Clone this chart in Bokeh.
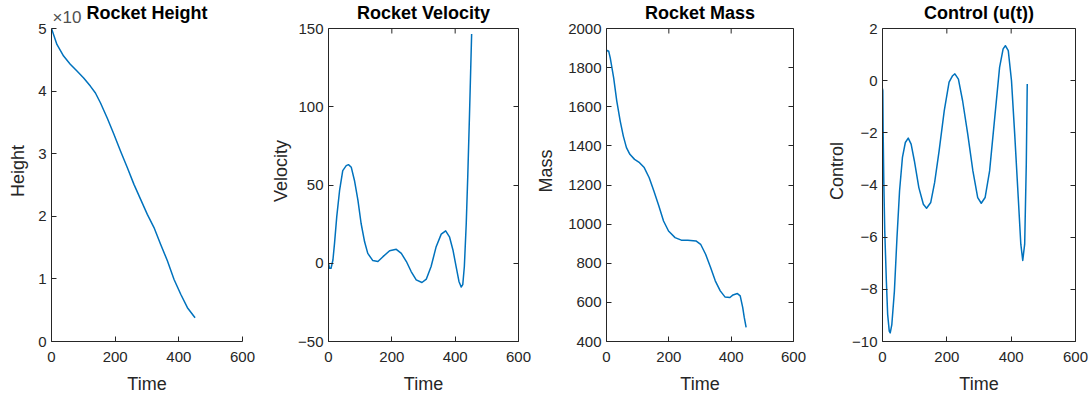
from bokeh.plotting import figure
from bokeh.layouts import row
from bokeh.models import LinearAxis, Range1d, FixedTicker, Label, Span, CustomJSTickFormatter
from bokeh.embed import file_html
from bokeh.resources import INLINE

# ---- data ----
t_height = [0, 17, 38, 59, 80, 101, 122, 138, 154, 175, 196, 217, 238, 259, 280,
            301, 322, 343, 364, 385, 406, 427, 451]
height_e4 = [5.0, 4.745, 4.56, 4.43, 4.32, 4.21, 4.08, 3.97, 3.81, 3.57, 3.31, 3.04,
             2.78, 2.51, 2.27, 2.03, 1.82, 1.55, 1.29, 0.99, 0.755, 0.54, 0.38]

t_vel = [0, 3, 8, 14, 19, 26, 35, 45, 56, 63, 72, 82, 93, 103, 114, 124, 140, 156,
         172, 193, 214, 230, 246, 261, 277, 295, 309, 324, 340, 356, 370, 382, 393,
         403, 412, 419, 424, 429, 435, 440, 445, 452]
velocity = [0, -3.2, -3.2, 2.1, 12.7, 29.6, 46.5, 59.2, 62.4, 63.0, 61.3, 52.9, 40.2,
            25.4, 13.7, 6.3, 1.7, 1.1, 4.2, 8.0, 8.9, 6.3, 1.1, -5.3, -10.6, -12.3,
            -10.1, -2.1, 10.6, 18.6, 20.7, 16.9, 8.5, -2.1, -11.6, -15.2, -13.7, -2.1,
            25.4, 57, 93, 146.5]

t_mass = [0, 2, 7, 12, 23, 33, 44, 54, 64, 75, 90, 106, 121, 137, 152, 168, 183, 199,
          220, 240, 261, 287, 302, 318, 334, 349, 365, 380, 396, 406, 420, 429, 437,
          442, 448]
mass = [1880, 1888, 1884, 1850, 1748, 1629, 1527, 1450, 1391, 1357, 1331, 1314, 1289,
        1237, 1169, 1093, 1016, 965, 931, 918, 918, 914, 897, 846, 778, 710, 659, 628,
        625, 638, 645, 633, 574, 523, 472]

t_ctrl = [0, 1, 2, 4, 7, 12, 16, 21, 24, 29, 37, 45, 53, 62, 71, 80, 89, 99, 113, 127,
          137, 150, 162, 176, 192, 207, 218, 225, 236, 249, 265, 281, 296, 307, 319,
          333, 349, 364, 375, 382, 391, 401, 411, 422, 430, 436, 442, 447, 450]
control = [-0.3, -0.38, -1.92, -3.84, -5.76, -7.68, -8.96, -9.6, -9.67, -9.35, -8.07,
           -6.02, -4.23, -2.94, -2.37, -2.2, -2.43, -3.07, -4.1, -4.74, -4.89, -4.67,
           -3.91, -2.69, -1.15, -0.06, 0.19, 0.26, 0.06, -0.77, -2.05, -3.46, -4.48,
           -4.7, -4.48, -3.46, -1.41, 0.51, 1.22, 1.34, 1.15, 0.0, -2.05, -4.48, -6.27,
           -6.89, -6.27, -3.2, -0.13]

x_ticks = [0, 200, 400, 600]
titles = ["Rocket Height", "Rocket Velocity", "Rocket Mass", "Control (u(t))"]

AX = "#262626"
FONT = "Liberation Sans"
LINE = "#0072BD"
TOP = 28          # space above the axes box, in px
BOX_H = 313       # height of the axes box, in px
BOTTOM = 55
HEIGHT = TOP + BOX_H + BOTTOM
TICK = 5


def style_axis(ax, show_labels=True):
    ax.axis_line_color = AX
    ax.major_tick_line_color = AX
    ax.major_tick_in = TICK
    ax.major_tick_out = 0
    ax.minor_tick_line_color = None
    ax.major_label_text_font = FONT
    ax.major_label_text_font_size = "15px"
    ax.major_label_text_color = AX
    ax.major_label_standoff = 5
    ax.axis_label_text_font = FONT
    ax.axis_label_text_font_size = "18px"
    ax.axis_label_text_font_style = "normal"
    ax.axis_label_text_color = AX
    if not show_labels:
        ax.formatter = CustomJSTickFormatter(code="return ''")
        ax.major_label_standoff = 0


def make_fig(width, left, right, title, xs, ys, yr, yticks, ylabel, ystand, box=True,
             note=None):
    lo, hi = yr
    # the frame reaches the top of the canvas; the box top (hi) sits TOP px lower
    top_val = hi + (hi - lo) * TOP / BOX_H
    p = figure(width=width, height=HEIGHT, min_border_left=left, min_border_right=right,
               min_border_top=0, min_border_bottom=BOTTOM,
               x_range=Range1d(0, 600), y_range=Range1d(lo, top_val),
               output_backend="svg", toolbar_location=None)
    p.grid.visible = False
    p.outline_line_color = None
    p.background_fill_color = "white"
    p.border_fill_color = "white"
    p.xaxis.ticker = FixedTicker(ticks=x_ticks)
    p.yaxis.ticker = FixedTicker(ticks=yticks)
    p.xaxis.axis_label = "Time"
    p.yaxis.axis_label = ylabel
    style_axis(p.xaxis[0])
    style_axis(p.yaxis[0])
    p.yaxis[0].bounds = (lo, hi)
    p.xaxis[0].major_label_standoff = 10
    p.xaxis[0].axis_label_standoff = 9
    p.yaxis[0].axis_label_standoff = ystand
    if box:
        ra = LinearAxis(ticker=FixedTicker(ticks=yticks), bounds=(lo, hi))
        style_axis(ra, show_labels=False)
        p.add_layout(ra, "right")
        p.add_layout(Span(location=hi, dimension="width", line_color=AX, line_width=1))
        tick_len = (top_val - lo) * TICK / (TOP + BOX_H)
        p.segment(x0=x_ticks, y0=[hi] * len(x_ticks), x1=x_ticks,
                  y1=[hi - tick_len] * len(x_ticks), line_color=AX, line_width=1)
    p.line(xs, ys, line_color=LINE, line_width=1.5, line_join="round")
    p.add_layout(Label(x=300, y=hi, y_offset=16, text=title, text_font=FONT,
                       text_font_size="18px", text_font_style="bold",
                       text_color="black", text_align="center",
                       text_baseline="middle"))
    if note:
        p.add_layout(Label(x=0, y=hi, x_offset=1, y_offset=2, text=note,
                           text_font=FONT, text_font_size="17px", text_color="#505050",
                           text_baseline="bottom"))
    return p


p1 = make_fig(257, 51, 15, titles[0], t_height, height_e4, (0, 5),
              [0, 1, 2, 3, 4, 5], "Height", 7, box=False, note="×10")
p2 = make_fig(276, 71, 15, titles[1], t_vel, velocity, (-50, 150),
              [-50, 0, 50, 100, 150], "Velocity", 4)
p3 = make_fig(277, 71, 17, titles[2], t_mass, mass, (400, 2000),
              list(range(400, 2001, 200)), "Mass", 9)
p4 = make_fig(279, 72, 14, titles[3], t_ctrl, control, (-10, 2),
              [-10, -8, -6, -4, -2, 0, 2], "Control", 2)

layout = row(p1, p2, p3, p4)
open("out.html", "w").write(file_html(layout, INLINE))
